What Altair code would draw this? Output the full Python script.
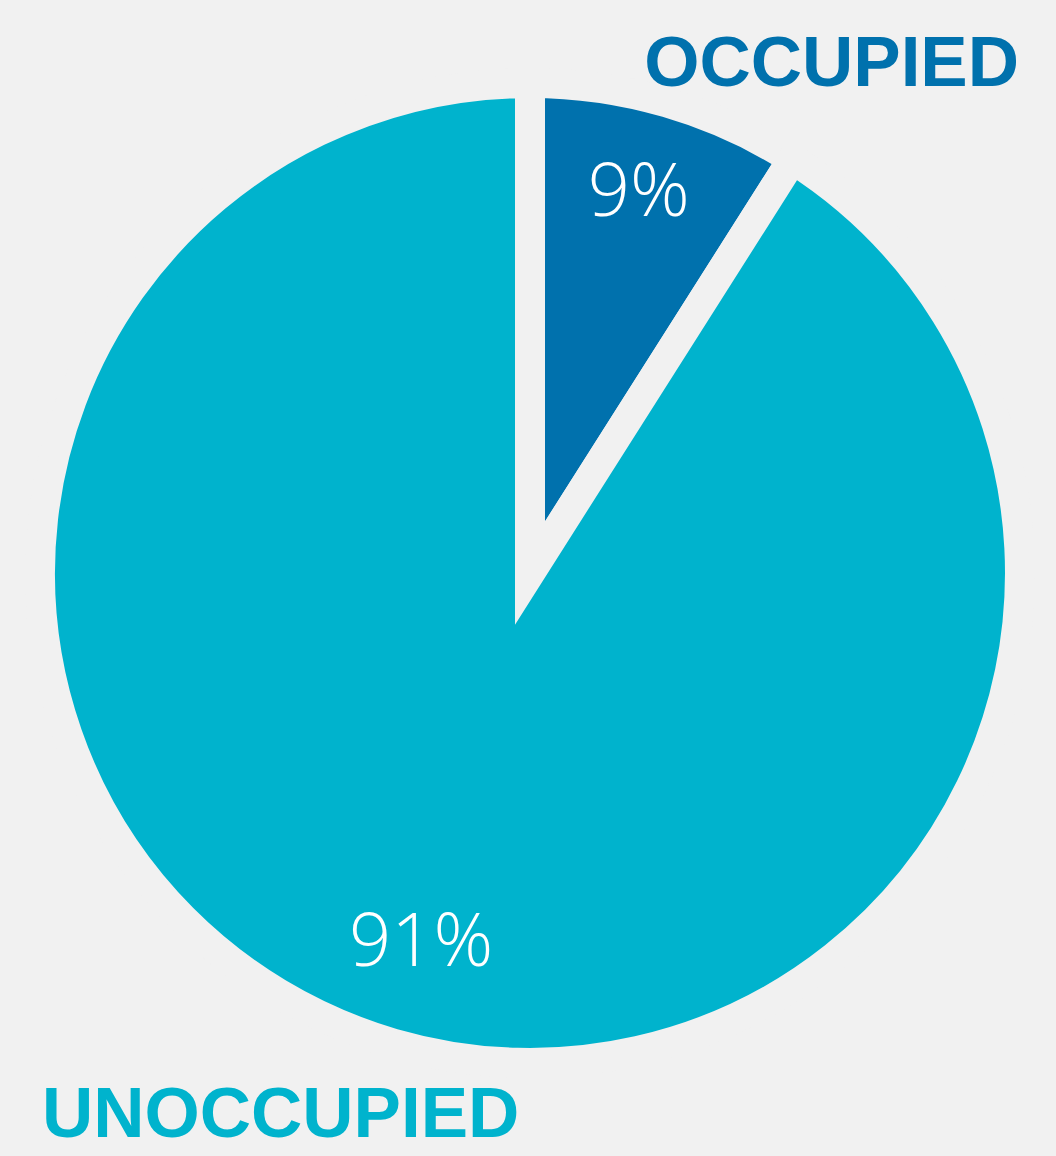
import altair as alt
import pandas as pd

categories = ["OCCUPIED", "UNOCCUPIED"]
shares = [9, 91]
labels = ["9%", "91%"]
colors = ["#0071AD", "#00B3CD"]
BG = "#F1F1F1"

df = pd.DataFrame({"cat": categories, "share": shares, "label": labels, "order": [0, 1]})

cx, cy = 530, 573

base = alt.Chart(df).encode(
    theta=alt.Theta("share:Q", stack=True),
    order=alt.Order("order:Q"),
    x=alt.value(cx),
    y=alt.value(cy),
)

pie = base.mark_arc(outerRadius=490, stroke=BG, strokeWidth=30).encode(
    color=alt.Color("cat:N", scale=alt.Scale(domain=categories, range=colors), legend=None)
)

pct = base.mark_text(radius=390, font="Open Sans", fontWeight=300, fontSize=74,
                     color="white", align="center", baseline="middle", dy=-4).encode(
    text="label:N"
)

t1 = alt.Chart(pd.DataFrame({"t": [categories[0]]})).mark_text(
    font="Liberation Sans", fontWeight="bold", fontSize=71, color=colors[0],
    align="right", baseline="alphabetic").encode(
    text="t:N", x=alt.value(1019), y=alt.value(86))

t2 = alt.Chart(pd.DataFrame({"t": [categories[1]]})).mark_text(
    font="Liberation Sans", fontWeight="bold", fontSize=71, color=colors[1],
    align="left", baseline="alphabetic").encode(
    text="t:N", x=alt.value(42), y=alt.value(1137))

chart = alt.layer(pie, pct, t1, t2).properties(
    width=1056, height=1156, background=BG,
    autosize=alt.AutoSizeParams(type="none"), padding=0,
).configure_view(stroke=None)

chart.save("out.html", embed_options={"renderer": "svg", "actions": False})
